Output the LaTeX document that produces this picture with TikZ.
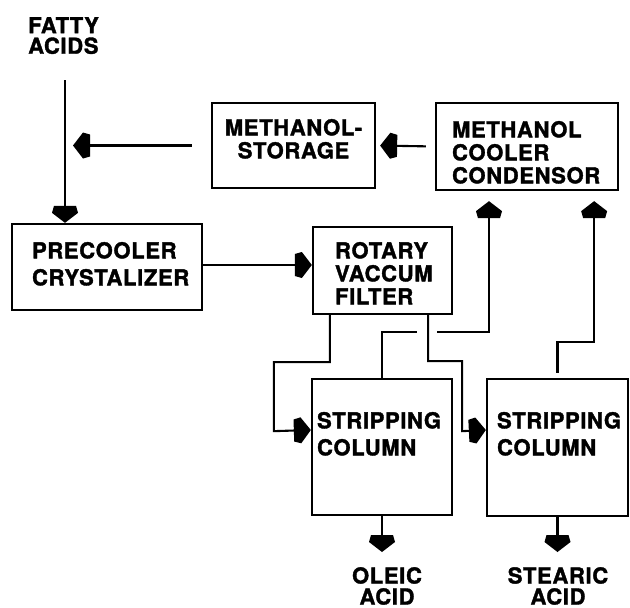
\documentclass[tikz,border=0pt]{standalone}
\usepackage{fontspec}
\newfontfamily\plantfont[LetterSpace=3,FakeBold=1.6]{TeX Gyre Heros}
\usetikzlibrary{arrows.meta}
\pgfdeclarearrow{
  name=Plug,
  setup code={
    \pgfarrowssettipend{0pt}
    \pgfarrowssetbackend{-17pt}
    \pgfarrowssetlineend{-8pt}
  },
  drawing code={
    \pgfpathmoveto{\pgfpoint{0pt}{0pt}}
    \pgfpathlineto{\pgfpoint{-10pt}{13pt}}
    \pgfpathlineto{\pgfpoint{-17pt}{11pt}}
    \pgfpathlineto{\pgfpoint{-17pt}{-11pt}}
    \pgfpathlineto{\pgfpoint{-10pt}{-13pt}}
    \pgfpathclose
    \pgfusepathqfill
  }
}
\tikzset{
  unit/.style={draw, line width=2.3pt, inner sep=0pt},
  caption/.style={inner sep=0pt, align=left},
  pipe/.style={line width=2.1pt},
  flow/.style={pipe, -Plug}
}

\begin{document}
\begin{tikzpicture}[x=1pt,y=1pt,font=\plantfont\bfseries\fontsize{22}{23}\selectfont]
  \useasboundingbox (0,0) rectangle (630,-608);

  % plant units
  \node[unit, minimum width=163pt, minimum height=85pt] (stor) at (293.5,-145.5) {};
  \node[unit, minimum width=182pt, minimum height=87pt] (cond) at (527,-146.5) {};
  \node[unit, minimum width=190pt, minimum height=86pt] (pre) at (107,-267) {};
  \node[unit, minimum width=139pt, minimum height=87pt] (rvf) at (382.5,-270.5) {};
  \node[unit, minimum width=140pt, minimum height=136pt] (sc1) at (382,-447) {};
  \node[unit, minimum width=141pt, minimum height=137pt] (sc2) at (557.5,-447.5) {};

  % labels
  \node[caption, anchor=north west] (fatty) at (28,-17) {FATTY\\[-2.5pt]ACIDS};
  \node[caption, anchor=north, align=center] (stortxt) at ([yshift=-17pt]stor.north) {METHANOL-\\STORAGE};
  \node[caption, anchor=north west] (condtxt) at ([shift={(17pt,-19pt)}]cond.north west) {METHANOL\\COOLER\\CONDENSOR};
  \node[caption, anchor=north west] (pretxt) at ([shift={(21pt,-19pt)}]pre.north west) {PRECOOLER\\[4pt]CRYSTALIZER};
  \node[caption, anchor=north west] (rvftxt) at ([shift={(23pt,-16pt)}]rvf.north west) {ROTARY\\VACCUM\\FILTER};
  \node[caption, anchor=north west] (sc1txt) at ([shift={(6pt,-34pt)}]sc1.north west) {STRIPPING\\[4pt]COLUMN};
  \node[caption, anchor=north west] (sc2txt) at ([shift={(11pt,-34pt)}]sc2.north west) {STRIPPING\\[4pt]COLUMN};
  \node[caption, anchor=north, align=center] (oleic) at (387,-567) {OLEIC\\[-2pt]ACID};
  \node[caption, anchor=north, align=center] (stearic) at (558,-567) {STEARIC\\[-2pt]ACID};

  % streams
  \coordinate (feed) at (65,-80);
  \coordinate (hop) at (427,-332);
  \draw[flow] (feed) -- (feed |- pre.north);
  \draw[flow, shorten <=19pt, shorten >=8pt] (stor.west) -- (feed |- stor.west);
  \draw[flow, shorten <=9pt, shorten >=4pt] (cond.west) -- (stor.east);
  \draw[flow] ([yshift=2pt]pre.east) -- ([yshift=2pt]pre.east -| rvf.west);
  \draw[flow] ([xshift=18pt]rvf.south west) -- ++(0,-47) -| ++(-56,-69) -- ([yshift=17pt]sc1.west);
  \draw[flow] ([xshift=-25pt]rvf.south east) -- ++(0,-46) -| ++(34,-70) -- ([yshift=17.5pt]sc2.west);
  \draw[pipe] (sc1.north) |- ([xshift=-10pt]hop);
  \draw[flow, shorten >=10pt] ([xshift=10pt]hop) -| ([xshift=-38pt]cond.south);
  \draw[flow, shorten <=5pt, shorten >=10pt] (sc2.north) -- ++(0,36) -| ([xshift=-25pt]cond.south east);
  \draw[flow, shorten >=15pt] (sc1.south) -- (sc1.south |- oleic.north);
  \draw[flow, shorten >=15pt] (sc2.south) -- (sc2.south |- stearic.north);
\end{tikzpicture}
\end{document}
